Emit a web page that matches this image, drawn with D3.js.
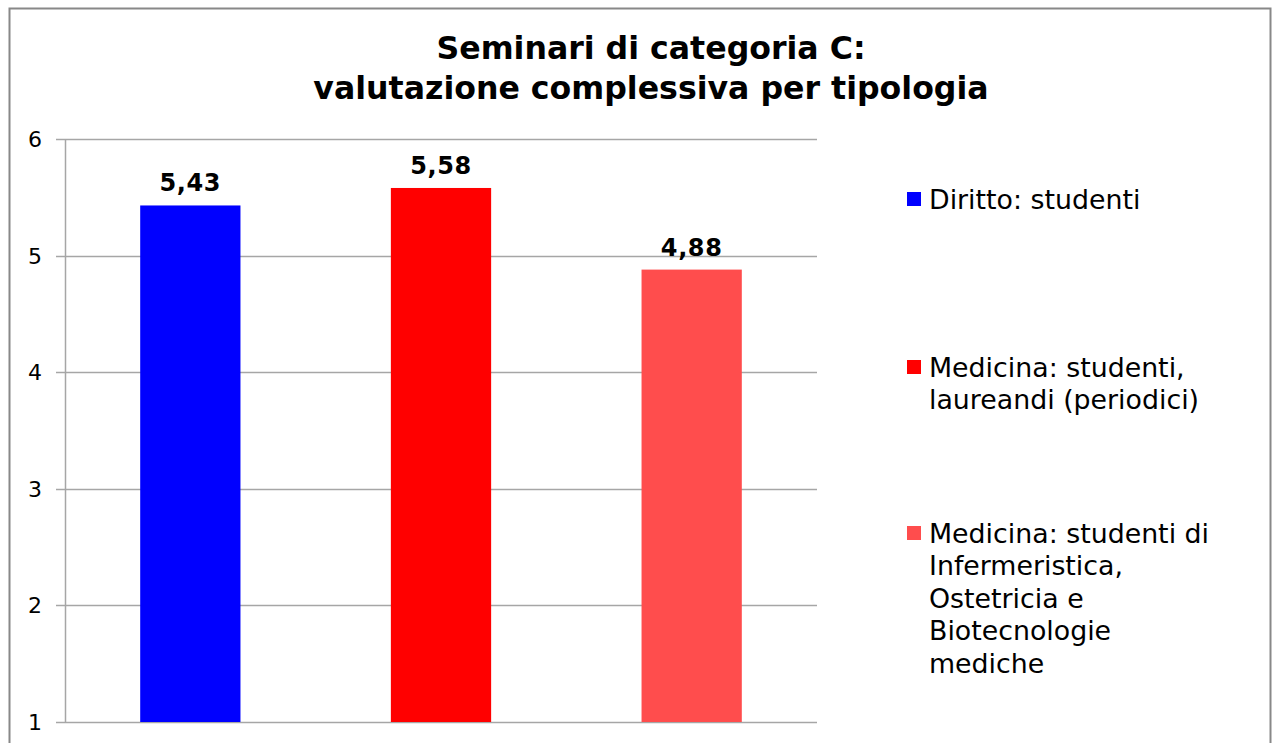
<!DOCTYPE html>
<html>
<head>
<meta charset="utf-8">
<script src="https://cdn.jsdelivr.net/npm/d3@7"></script>
<style>
  body { margin: 0; background: #fff; }
  text { font-family: "DejaVu Sans", Verdana, sans-serif; }
</style>
</head>
<body>
<div id="chart"></div>
<script>
// Data
const categories = [
  "Diritto: studenti",
  "Medicina: studenti, laureandi (periodici)",
  "Medicina: studenti di Infermeristica, Ostetricia e Biotecnologie mediche"
];
const values = [5.43, 5.58, 4.88];
const colors = ["#0000ff", "#ff0000", "#ff4d4d"];
const yTicks = [1, 2, 3, 4, 5, 6];
const titleLines = ["Seminari di categoria C:", "valutazione complessiva per tipologia"];
// legend text split into lines as in the picture
const legendLines = [
  ["Diritto: studenti"],
  ["Medicina: studenti,", "laureandi (periodici)"],
  ["Medicina: studenti di", "Infermeristica,", "Ostetricia e", "Biotecnologie", "mediche"]
];

const W = 1278, H = 743;
const margin = { top: 139, left: 65, right: 461, bottom: 21 };
const width = W - margin.left - margin.right;
const height = H - margin.top - margin.bottom;

const svg = d3.select("#chart").append("svg")
  .attr("width", W)
  .attr("height", H);

// outer frame
svg.append("rect")
  .attr("x", 9.5).attr("y", 8.5)
  .attr("width", 1261).attr("height", 760)
  .attr("fill", "none")
  .attr("stroke", "#888")
  .attr("stroke-width", 2);

// title
svg.append("text")
  .attr("x", 651)
  .attr("y", 59)
  .attr("text-anchor", "middle")
  .attr("font-size", 31.6)
  .attr("font-weight", "bold")
  .selectAll("tspan")
  .data(titleLines)
  .join("tspan")
  .attr("x", 651)
  .attr("dy", (d, i) => i === 0 ? 0 : 40)
  .text(d => d);

const g = svg.append("g")
  .attr("transform", `translate(${margin.left}, ${margin.top})`);

const x = d3.scaleBand()
  .domain(categories)
  .range([0, width])
  .paddingInner(0.6)
  .paddingOuter(0.3);

const y = d3.scaleLinear()
  .domain([1, 6])
  .range([height, 0]);

// gridlines
g.append("g")
  .selectAll("line")
  .data(yTicks)
  .join("line")
  .attr("x1", -9)
  .attr("x2", width)
  .attr("y1", d => Math.round(y(d)) + 0.5)
  .attr("y2", d => Math.round(y(d)) + 0.5)
  .attr("stroke", "#a6a6a6")
  .attr("stroke-width", 1.5);

// y axis line
g.append("line")
  .attr("x1", 0.5).attr("x2", 0.5)
  .attr("y1", 0).attr("y2", height)
  .attr("stroke", "#a6a6a6")
  .attr("stroke-width", 1.5);

// y tick labels
g.append("g")
  .selectAll("text")
  .data(yTicks)
  .join("text")
  .attr("x", -23)
  .attr("y", d => y(d))
  .attr("dy", "0.36em")
  .attr("text-anchor", "end")
  .attr("font-size", 22)
  .text(d => d);

// bars
g.selectAll("rect.bar")
  .data(values)
  .join("rect")
  .attr("class", "bar")
  .attr("x", (d, i) => x(categories[i]))
  .attr("y", d => y(d))
  .attr("width", x.bandwidth())
  .attr("height", d => height - y(d))
  .attr("fill", (d, i) => colors[i]);

// value labels
g.selectAll("text.val")
  .data(values)
  .join("text")
  .attr("class", "val")
  .attr("x", (d, i) => x(categories[i]) + x.bandwidth() / 2)
  .attr("y", d => y(d) - 14)
  .attr("text-anchor", "middle")
  .attr("font-size", 24)
  .attr("font-weight", "bold")
  .attr("letter-spacing", 0.6)
  .text(d => d.toFixed(2).replace(".", ","));

// legend
const legendY = [199, 367, 533];
const legend = svg.append("g")
  .selectAll("g")
  .data(categories)
  .join("g")
  .attr("transform", (d, i) => `translate(907, ${legendY[i]})`);

legend.append("rect")
  .attr("x", 0)
  .attr("y", -7)
  .attr("width", 14)
  .attr("height", 14)
  .attr("fill", (d, i) => colors[i]);

legend.append("text")
  .attr("x", 22)
  .attr("y", 0)
  .attr("font-size", 26.8)
  .selectAll("tspan")
  .data((d, i) => legendLines[i])
  .join("tspan")
  .attr("x", 22)
  .attr("dy", (d, i) => i === 0 ? "0.36em" : 32.5)
  .text(d => d);
</script>
</body>
</html>
